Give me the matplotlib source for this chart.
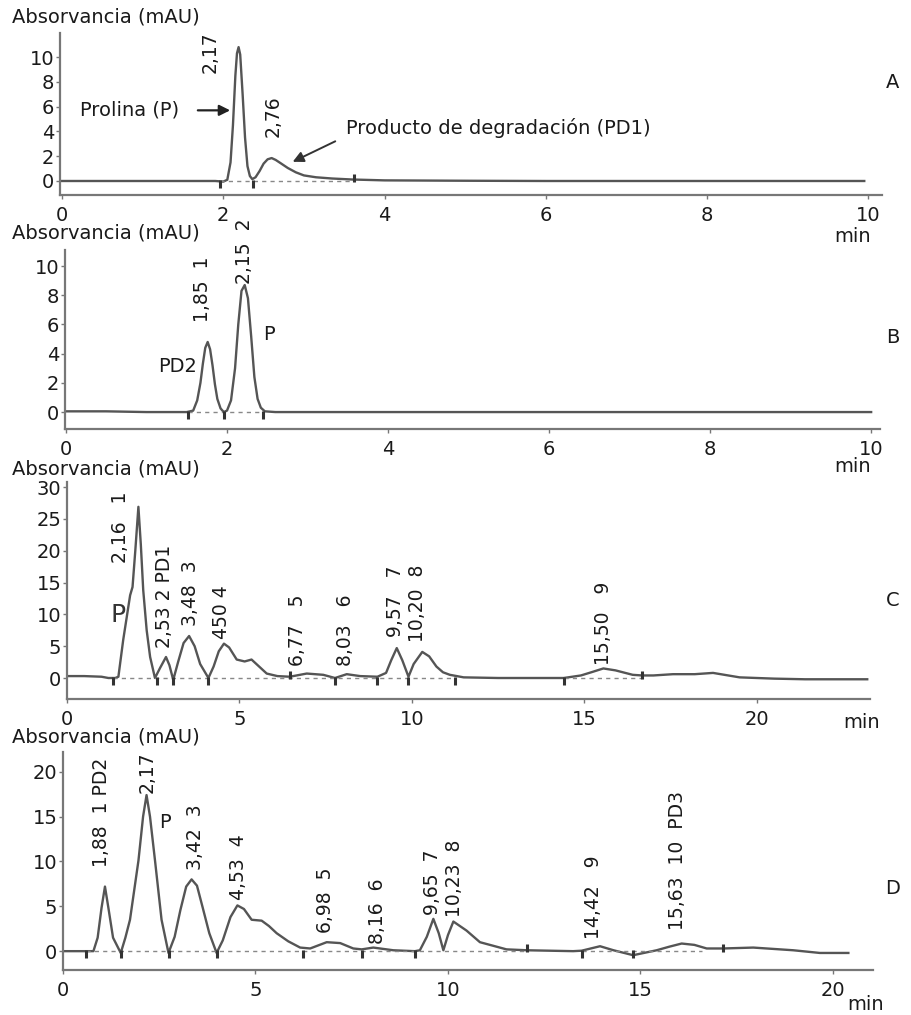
import matplotlib
matplotlib.use("Agg")
import matplotlib.pyplot as plt

# --- panel A: proline standard ---
a_t = [0, 1.0, 1.9, 2.0, 2.05, 2.09, 2.12, 2.15, 2.17, 2.19, 2.21, 2.24, 2.27, 2.30,
       2.33, 2.36, 2.40, 2.45, 2.50, 2.55, 2.60, 2.65, 2.72, 2.80, 2.90, 3.00, 3.15,
       3.35, 3.6, 4.0, 5.0, 6.0, 7.0, 8.0, 9.0, 9.95]
a_y = [0, 0, 0, -0.05, 0.1, 1.5, 4.5, 8.5, 10.3, 10.8, 10.2, 7.0, 3.5, 1.2,
       0.4, 0.15, 0.3, 0.8, 1.4, 1.75, 1.85, 1.7, 1.4, 1.05, 0.7, 0.45, 0.3,
       0.2, 0.12, 0.05, 0.02, 0, 0, 0, 0, 0]
a_marks_down = [1.96, 2.37]
a_marks_up = [3.62]

# --- panel B ---
b_t = [0, 0.5, 1.0, 1.5, 1.58, 1.63, 1.67, 1.70, 1.73, 1.76, 1.79, 1.82, 1.85, 1.88,
       1.92, 1.96, 2.00, 2.05, 2.10, 2.14, 2.18, 2.22, 2.26, 2.30, 2.34, 2.38, 2.42,
       2.47, 2.6, 3, 4, 5, 6, 7, 8, 9, 10]
b_y = [0.05, 0.05, 0, 0, 0.1, 0.8, 2.0, 3.3, 4.4, 4.8, 4.3, 3.2, 1.9, 0.9,
       0.25, 0, 0.1, 0.8, 3.0, 6.0, 8.3, 8.7, 7.8, 5.2, 2.4, 0.9, 0.3,
       0.05, 0, 0, 0, 0, 0, 0, 0, 0, 0]
b_marks_down = [1.52, 1.96, 2.45]
b_marks_up = []

# --- panel C ---
c_t = [0, 0.5, 1.0, 1.2, 1.4, 1.49, 1.63, 1.83, 1.90, 1.98, 2.07, 2.14, 2.21, 2.31,
       2.41, 2.55, 2.70, 2.87, 2.97, 3.08, 3.22, 3.38, 3.54, 3.70, 3.86, 4.10, 4.25,
       4.40, 4.55, 4.70, 4.92, 5.15, 5.35, 5.55, 5.79, 6.10, 6.46, 6.95, 7.43, 7.77,
       8.11, 8.5, 9.0, 9.25, 9.40, 9.56, 9.72, 9.90, 10.05, 10.30, 10.50, 10.71, 10.90,
       11.1, 11.5, 12.5, 13.5, 14.4, 14.9, 15.2, 15.55, 15.9, 16.4, 16.67, 17.0, 17.57,
       18.2, 18.73, 19.5, 20.5, 21.4, 22.3, 23.2]
c_y = [0.3, 0.3, 0.2, 0.0, 0.0, 0.2, 6.0, 13.0, 14.3, 20.0, 26.9, 21.0, 13.8, 7.5,
       3.3, 0.0, 1.6, 3.3, 2.0, -0.3, 2.5, 5.5, 6.6, 5.0, 2.2, 0.0, 1.8,
       4.2, 5.4, 4.8, 2.9, 2.6, 2.9, 1.9, 0.7, 0.3, 0.2, 0.7, 0.5, 0.0,
       0.6, 0.3, 0.2, 0.8, 2.8, 4.7, 2.8, 0.2, 2.2, 4.1, 3.4, 1.8, 0.9,
       0.5, 0.1, 0.0, 0.0, 0.0, 0.4, 0.9, 1.5, 1.2, 0.5, 0.4, 0.4, 0.6,
       0.6, 0.8, 0.1, -0.1, -0.2, -0.2, -0.2]
c_marks_down = [1.33, 2.6, 3.08, 4.09, 7.77, 8.98, 9.9, 11.25, 14.4]
c_marks_up = [6.46, 16.67]

# --- panel D ---
d_t = [0, 0.4, 0.79, 0.90, 1.00, 1.09, 1.18, 1.30, 1.50, 1.62, 1.74, 1.96, 2.08, 2.17,
       2.26, 2.39, 2.56, 2.74, 2.90, 3.05, 3.20, 3.34, 3.48, 3.62, 3.80, 3.99, 4.15,
       4.35, 4.53, 4.70, 4.90, 5.16, 5.35, 5.55, 5.85, 6.16, 6.42, 6.85, 7.20, 7.54,
       7.76, 8.06, 8.58, 9.14, 9.27, 9.45, 9.62, 9.76, 9.88, 10.0, 10.14, 10.48, 10.83,
       11.52, 12.05, 13.25, 13.47, 13.95, 14.3, 14.81, 15.42, 15.75, 16.07, 16.4, 16.72,
       17.15, 17.93, 18.97, 19.66, 20.4]
d_y = [0, 0, 0, 1.5, 4.8, 7.2, 4.8, 1.5, -0.2, 1.5, 3.5, 10.1, 15.0, 17.4,
       15.0, 10.1, 3.5, -0.2, 1.6, 4.6, 7.2, 8.0, 7.3, 5.0, 2.0, -0.2, 1.2,
       3.8, 5.1, 4.7, 3.5, 3.4, 2.8, 2.0, 1.1, 0.4, 0.3, 1.0, 0.9, 0.3,
       0.2, 0.4, 0.1, 0.0, 0.1, 1.6, 3.6, 2.0, 0.1, 1.8, 3.3, 2.3, 1.0,
       0.2, 0.1, 0.0, 0.05, 0.55, 0.1, -0.45, 0.1, 0.5, 0.85, 0.7, 0.3,
       0.3, 0.4, 0.1, -0.2, -0.2]
d_marks_down = [0.61, 1.5, 2.75, 3.99, 6.24, 7.76, 9.14, 13.47, 14.81]
d_marks_up = [12.05, 17.15]

# peak labels: (text, time, absorbance) -- rotated
c_labels = [("2,16   1", 1.54, 23.7), ("2,53 2 PD1", 2.84, 12.9), ("3,48  3", 3.57, 13.3),
            ("450 4", 4.49, 10.4), ("6,77   5", 6.67, 7.5), ("8,03   6", 8.06, 7.5),
            ("9,57   7", 9.51, 12.1), ("10,20  8", 10.17, 11.8), ("15,50   9", 15.54, 8.6)]
d_labels = [("1,88  1 PD2", 1.01, 15.5), ("2,17", 2.18, 20.0), ("3,42  3", 3.43, 12.7),
            ("4,53  4", 4.55, 9.4), ("6,98  5", 6.81, 5.7), ("8,16  6", 8.16, 4.5),
            ("9,65  7", 9.61, 7.7), ("10,23  8", 10.18, 8.1), ("14,42   9", 13.77, 6.0),
            ("15,63  10  PD3", 15.97, 10.1)]
a_labels = [("2,17", 1.84, 10.4), ("2,76", 2.62, 5.2)]
b_labels = [("1,85  1", 1.70, 8.4), ("2,15  2", 2.22, 11.0)]

W, H = 912, 1015
LINE = "#555555"
SPINE = "#777777"
TXT = "#1a1a1a"
plt.rcParams["font.family"] = ["DejaVu Sans"]


def box(l, r, t, b):
    return [l / W, 1 - b / H, (r - l) / W, (b - t) / H]


def panel(fig, rect, t, y, xlim, ylim, xticks, yticks, marks_down, marks_up,
          dash_spans, pxy, letter, letter_y, ylab_y, min_xy):
    ax = fig.add_axes(rect)
    ax.plot(t, y, color=LINE, lw=1.7, solid_joinstyle="round")
    for x0, x1 in dash_spans:
        ax.plot([x0, x1], [0, 0], color="#888888", lw=1.0, ls=(0, (3, 3)))
    d = 7 / pxy
    if marks_down:
        ax.vlines(marks_down, -d, 0.1 * d, color="#333333", lw=2.2)
    if marks_up:
        ax.vlines(marks_up, -0.1 * d, d, color="#333333", lw=2.2)
    ax.set_xlim(*xlim)
    ax.set_ylim(*ylim)
    ax.set_xticks(xticks)
    ax.set_yticks(yticks)
    for s in ("top", "right"):
        ax.spines[s].set_visible(False)
    for s in ("left", "bottom"):
        ax.spines[s].set_color(SPINE)
        ax.spines[s].set_linewidth(1.6)
    ax.tick_params(axis="both", colors=SPINE, length=3, width=1, labelsize=14,
                   labelcolor=TXT)
    ax.tick_params(axis="y", pad=1)
    ax.tick_params(axis="x", pad=5)
    fig.text(12 / W, 1 - ylab_y / H, "Absorvancia (mAU)", fontsize=14, color=TXT,
             va="center", ha="left")
    fig.text(min_xy[0] / W, 1 - min_xy[1] / H, "min", fontsize=14, color=TXT,
             va="center", ha="center")
    fig.text(893 / W, 1 - letter_y / H, letter, fontsize=14, color=TXT, va="center",
             ha="center")
    return ax


def peak_labels(ax, labels):
    for txt, x, yy in labels:
        ax.text(x, yy, txt, rotation=90, ha="center", va="center", fontsize=13.5,
                color=TXT, clip_on=False)


fig = plt.figure(figsize=(W / 100, H / 100), dpi=100)

axA = panel(fig, box(60, 882, 33, 195), a_t, a_y, (-0.025, 10.17), (-1.13, 11.94),
            range(0, 11, 2), range(0, 11, 2), a_marks_down, a_marks_up,
            [(1.96, 3.62)], 12.4, "A", 83, 17, (853, 236))
peak_labels(axA, a_labels)
axA.annotate("", xy=(2.12, 5.7), xytext=(1.65, 5.7),
             arrowprops=dict(arrowstyle="-|>", color="#222222", lw=1.6, mutation_scale=16))
axA.text(0.22, 5.7, "Prolina (P)", fontsize=14, color=TXT, va="center", ha="left")
axA.annotate("", xy=(2.83, 1.45), xytext=(3.42, 3.3),
             arrowprops=dict(arrowstyle="-|>", color="#333333", lw=1.4, mutation_scale=16))
axA.text(3.52, 4.27, "Producto de degradación (PD1)", fontsize=14, color=TXT,
         va="center", ha="left")

axB = panel(fig, box(65, 880, 250, 429), b_t, b_y, (-0.012, 10.11), (-1.16, 11.1),
            range(0, 11, 2), range(0, 11, 2), b_marks_down, b_marks_up,
            [(1.52, 2.45)], 14.6, "B", 337, 233, (853, 467))
peak_labels(axB, b_labels)
axB.text(1.63, 3.1, "PD2", fontsize=14, color=TXT, va="center", ha="right")
axB.text(2.45, 5.3, "P", fontsize=14, color=TXT, va="center", ha="left")

axC = panel(fig, box(67, 870, 482, 699), c_t, c_y, (0, 23.28), (-3.3, 30.8),
            range(0, 21, 5), range(0, 31, 5), c_marks_down, c_marks_up,
            [(1.33, 11.25), (14.4, 16.67)], 6.37, "C", 600, 469, (862, 723))
peak_labels(axC, c_labels)
axC.text(1.48, 9.9, "P", fontsize=18, color="#333333", va="center", ha="center")

axD = panel(fig, box(63, 873, 752, 970), d_t, d_y, (0, 21.04), (-2.1, 22.2),
            range(0, 21, 5), range(0, 21, 5), d_marks_down, d_marks_up,
            [(0.61, 12.05), (13.47, 16.6)], 8.97, "D", 888, 737, (866, 1004))
peak_labels(axD, d_labels)
axD.text(2.65, 14.3, "P", fontsize=14, color=TXT, va="center", ha="center")

fig.savefig("out.png", dpi=100, facecolor="white")
